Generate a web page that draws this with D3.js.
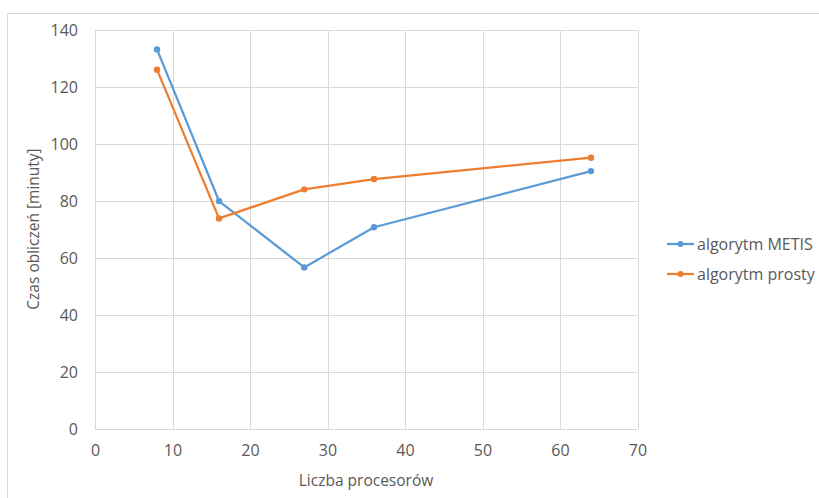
<!DOCTYPE html>
<html>
<head>
<meta charset="utf-8">
<script src="https://cdn.jsdelivr.net/npm/d3@7"></script>
<style>
  html, body { margin: 0; padding: 0; background: #fff; }
  svg { display: block; font-family: "Open Sans", "Liberation Sans", sans-serif; }
</style>
</head>
<body>
<svg id="chart" width="819" height="498"></svg>
<script>
// Number of processors on the x axis
const processors = [8, 16, 27, 36, 64];
// Computation time in minutes for each partitioning method
const metisTimes = [133.3, 80.1, 56.8, 70.9, 90.6];
const simpleTimes = [126.2, 74.0, 84.2, 87.8, 95.3];
const seriesNames = ["algorytm METIS", "algorytm prosty"];
const xTicks = [0, 10, 20, 30, 40, 50, 60, 70];
const yTicks = [0, 20, 40, 60, 80, 100, 120, 140];

const colors = ["#5b9bd5", "#ed7d31"];
const textColor = "#595959";
const gridColor = "#d9d9d9";

const svg = d3.select("#chart");
const W = 819, H = 498;

const x = d3.scaleLinear().domain([0, 70]).range([95, 637.5]);
const y = d3.scaleLinear().domain([0, 140]).range([429.3, 30.3]);

// Outer chart frame
svg.append("path")
  .attr("d", `M7.5,${H} V13.5 H${W}`)
  .attr("fill", "none")
  .attr("stroke", gridColor)
  .attr("stroke-width", 1);

// Gridlines
const grid = svg.append("g");
grid.selectAll("line.h").data(yTicks).join("line")
  .attr("x1", x(0)).attr("x2", x(70))
  .attr("y1", d => Math.round(y(d)) + 0.5).attr("y2", d => Math.round(y(d)) + 0.5)
  .attr("stroke", gridColor).attr("stroke-width", 1);
grid.selectAll("line.v").data(xTicks).join("line")
  .attr("x1", d => Math.round(x(d)) + 0.5).attr("x2", d => Math.round(x(d)) + 0.5)
  .attr("y1", y(0)).attr("y2", y(140))
  .attr("stroke", gridColor).attr("stroke-width", 1);

// Axes (labels only)
const xAxis = svg.append("g")
  .attr("transform", `translate(0,${y(0)})`)
  .call(d3.axisBottom(x).tickValues(xTicks).tickSize(0).tickPadding(15));
const yAxis = svg.append("g")
  .attr("transform", `translate(${x(0)},0)`)
  .call(d3.axisLeft(y).tickValues(yTicks).tickSize(0).tickPadding(17));
[xAxis, yAxis].forEach(g => {
  g.select(".domain").remove();
  g.selectAll("text")
    .attr("fill", textColor)
    .style("font-size", "16px")
    .style("font-family", "'Open Sans', sans-serif");
});

// Axis titles
svg.append("text")
  .attr("x", 366).attr("y", 485.5)
  .attr("text-anchor", "middle")
  .attr("fill", textColor)
  .style("font-size", "15.5px")
  .text("Liczba procesorów");
svg.append("text")
  .attr("transform", "translate(38.5,229) rotate(-90)")
  .attr("text-anchor", "middle")
  .attr("fill", textColor)
  .style("font-size", "15.5px")
  .text("Czas obliczeń [minuty]");

// Series lines and markers
const series = [metisTimes, simpleTimes];
const line = d3.line().x((d, i) => x(processors[i])).y(d => y(d));
series.forEach((vals, s) => {
  svg.append("path")
    .datum(vals)
    .attr("d", line)
    .attr("fill", "none")
    .attr("stroke", colors[s])
    .attr("stroke-width", 2.25)
    .attr("stroke-linejoin", "round");
  svg.append("g").selectAll("circle").data(vals).join("circle")
    .attr("cx", (d, i) => x(processors[i]))
    .attr("cy", d => y(d))
    .attr("r", 3.2)
    .attr("fill", colors[s]);
});

// Legend
const legend = svg.append("g");
const legendY = [244, 274];
seriesNames.forEach((name, s) => {
  const g = legend.append("g").attr("transform", `translate(0,${legendY[s]})`);
  g.append("line").attr("x1", 667).attr("x2", 694).attr("y1", 0).attr("y2", 0)
    .attr("stroke", colors[s]).attr("stroke-width", 2.25);
  g.append("circle").attr("cx", 680.5).attr("cy", 0).attr("r", 3).attr("fill", colors[s]);
  g.append("text").attr("x", 697).attr("y", 0).attr("dy", "0.35em")
    .attr("fill", textColor)
    .style("font-size", "16px")
    .text(name);
});
</script>
</body>
</html>
